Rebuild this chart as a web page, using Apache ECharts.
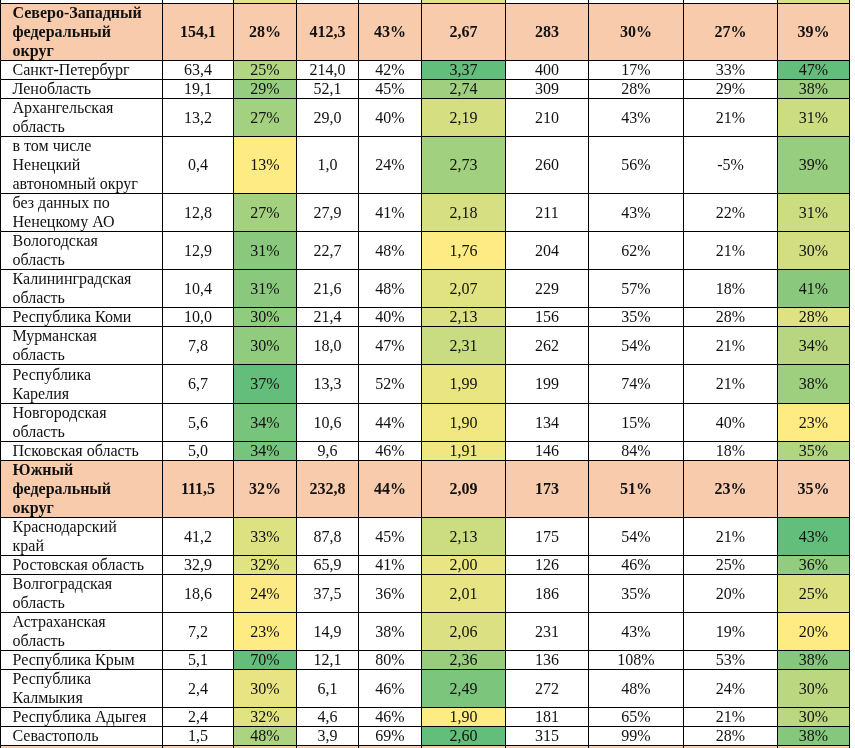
<!DOCTYPE html>
<html>
<head>
<meta charset="utf-8">
<script src="https://cdn.jsdelivr.net/npm/echarts@6/dist/echarts.min.js"></script>
<style>
html, body { margin: 0; padding: 0; background: #fff; }
#main { width: 855px; height: 748px; }
</style>
</head>
<body>
<div id="main"></div>
<script>
// строки таблицы (перенос строки = перенос в ячейке)
var names = [
    'Северо-Западный\nфедеральный\nокруг',
    'Санкт-Петербург',
    'Ленобласть',
    'Архангельская\nобласть',
    'в том числе\nНенецкий\nавтономный округ',
    'без данных по\nНенецкому АО',
    'Вологодская\nобласть',
    'Калининградская\nобласть',
    'Республика Коми',
    'Мурманская\nобласть',
    'Республика\nКарелия',
    'Новгородская\nобласть',
    'Псковская область',
    'Южный\nфедеральный\nокруг',
    'Краснодарский\nкрай',
    'Ростовская область',
    'Волгоградская\nобласть',
    'Астраханская\nобласть',
    'Республика Крым',
    'Республика\nКалмыкия',
    'Республика Адыгея',
    'Севастополь'
];
// строки-заголовки округов
var groupStart = [0, 13];

var col1 = [154.1, 63.4, 19.1, 13.2, 0.4, 12.8, 12.9, 10.4, 10.0, 7.8, 6.7, 5.6, 5.0,
            111.5, 41.2, 32.9, 18.6, 7.2, 5.1, 2.4, 2.4, 1.5];
var col2 = [28, 25, 29, 27, 13, 27, 31, 31, 30, 30, 37, 34, 34,
            32, 33, 32, 24, 23, 70, 30, 32, 48];
var col3 = [412.3, 214.0, 52.1, 29.0, 1.0, 27.9, 22.7, 21.6, 21.4, 18.0, 13.3, 10.6, 9.6,
            232.8, 87.8, 65.9, 37.5, 14.9, 12.1, 6.1, 4.6, 3.9];
var col4 = [43, 42, 45, 40, 24, 41, 48, 48, 40, 47, 52, 44, 46,
            44, 45, 41, 36, 38, 80, 46, 46, 69];
var col5 = [2.67, 3.37, 2.74, 2.19, 2.73, 2.18, 1.76, 2.07, 2.13, 2.31, 1.99, 1.90, 1.91,
            2.09, 2.13, 2.00, 2.01, 2.06, 2.36, 2.49, 1.90, 2.60];
var col6 = [283, 400, 309, 210, 260, 211, 204, 229, 156, 262, 199, 134, 146,
            173, 175, 126, 186, 231, 136, 272, 181, 315];
var col7 = [30, 17, 28, 43, 56, 43, 62, 57, 35, 54, 74, 15, 84,
            51, 54, 46, 35, 43, 108, 48, 65, 99];
var col8 = [27, 33, 29, 21, -5, 22, 21, 18, 28, 21, 21, 40, 18,
            23, 21, 25, 20, 19, 53, 24, 21, 28];
var col9 = [39, 47, 38, 31, 39, 31, 30, 41, 28, 34, 38, 23, 35,
            35, 43, 36, 25, 20, 38, 30, 30, 38];

var cols = [col1, col2, col3, col4, col5, col6, col7, col8, col9];

function dec1(v) { return v.toFixed(1).replace('.', ','); }
function dec2(v) { return v.toFixed(2).replace('.', ','); }
function pct(v) { return v + '%'; }
function int(v) { return String(v); }
var fmt = [dec1, pct, dec1, pct, dec2, int, pct, pct, pct];

// колонки с цветовой шкалой (индексы в cols)
var heatCols = [1, 4, 8];

// разметка
var colEdges = [0, 162, 233, 296, 358, 421, 505, 588, 683, 777, 849];
var yellow = '#FFEB84', green = '#63BE7B', peach = '#F8CBAD';
var prevRowFill = ['#fff', '#fff', '#E3E48A', '#fff', '#fff', '#E1E38A', '#fff', '#fff', '#fff', '#D9E189'];
var font = 'Liberation Serif';

var rowTop = [], rowLines = [], t = 0;
names.forEach(function (n) {
    var k = n.split('\n').length;
    rowTop.push(t);
    rowLines.push(k);
    t += k;
});
var totalLines = t;
var N = names.length;

function groupOf(i) {
    var g = 0;
    groupStart.forEach(function (s, k) { if (i >= s) g = k; });
    return g;
}

function heatColor(ci, i) {
    var g = groupOf(i);
    var s = groupStart[g] + 1;
    var e = g + 1 < groupStart.length ? groupStart[g + 1] : N;
    var vals = cols[ci].slice(s, e);
    var mn = Math.min.apply(null, vals), mx = Math.max.apply(null, vals);
    return echarts.color.lerp((cols[ci][i] - mn) / (mx - mn), [yellow, green]);
}

var cells = [];
for (var r = -1; r <= N; r++) {
    for (var c = 0; c < 10; c++) {
        cells.push([c, r]);
    }
}

var myChart = echarts.init(document.getElementById('main'));

var pxLine = 742 / totalLines;

var option = {
    animation: false,
    grid: { left: 0, right: 0, top: 0, bottom: 0 },
    xAxis: { type: 'value', min: 0, max: 855, show: false },
    yAxis: {
        type: 'value', inverse: true, show: false,
        min: -3 / pxLine, max: totalLines + 3 / pxLine
    },
    series: [{
        type: 'custom',
        clip: true,
        data: cells,
        renderItem: function (params, api) {
            var c = api.value(0), r = api.value(1);
            var top, lines, fill, text = '', bold = false;
            if (r < 0) {
                top = -1; lines = 1; fill = prevRowFill[c];
            } else if (r >= N) {
                top = totalLines; lines = 3; fill = peach;
            } else {
                top = rowTop[r]; lines = rowLines[r];
                bold = groupStart.indexOf(r) >= 0;
                if (c === 0) {
                    text = names[r];
                } else {
                    text = fmt[c - 1](cols[c - 1][r]);
                }
                if (bold) fill = peach;
                else if (heatCols.indexOf(c - 1) >= 0) fill = heatColor(c - 1, r);
                else fill = '#fff';
            }
            var p0 = api.coord([colEdges[c], top]);
            var p1 = api.coord([colEdges[c + 1], top + lines]);
            var x0 = Math.round(p0[0]) + 0.5, x1 = Math.round(p1[0]) + 0.5;
            var y0 = Math.round(p0[1]) + 0.5, y1 = Math.round(p1[1]) + 0.5;
            var children = [{
                type: 'rect',
                shape: { x: x0, y: y0, width: x1 - x0, height: y1 - y0 },
                style: { fill: fill, stroke: '#000', lineWidth: 1 }
            }];
            if (text) {
                children.push({
                    type: 'text',
                    style: {
                        text: text,
                        x: c === 0 ? x0 + 12 : (x0 + x1) / 2,
                        y: (y0 + y1) / 2 + 1,
                        align: c === 0 ? 'left' : 'center',
                        verticalAlign: 'middle',
                        fontFamily: font,
                        fontSize: 16,
                        lineHeight: pxLine,
                        fontWeight: bold ? 'bold' : 'normal',
                        fill: '#111'
                    }
                });
            }
            return { type: 'group', children: children };
        }
    }]
};

myChart.setOption(option);
</script>
</body>
</html>
